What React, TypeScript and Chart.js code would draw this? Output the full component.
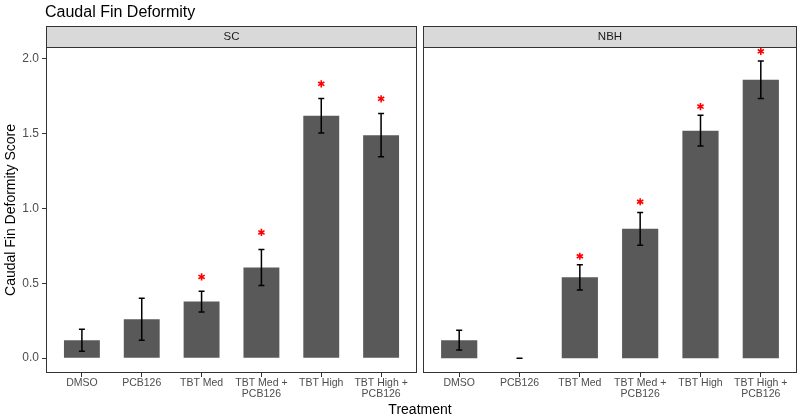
import React, { useEffect, useRef } from 'react';
import { Chart, registerables } from 'chart.js';

Chart.register(...registerables);

// ---- data ----
const CATEGORIES: string[][] = [
  ['DMSO'],
  ['PCB126'],
  ['TBT Med'],
  ['TBT Med +', 'PCB126'],
  ['TBT High'],
  ['TBT High +', 'PCB126'],
];
const PANELS = ['SC', 'NBH'];
const SC_MEAN = [0.12, 0.26, 0.378, 0.606, 1.62, 1.49];
const SC_SE = [0.073, 0.14, 0.07, 0.12, 0.115, 0.145];
const SC_STAR: (number | null)[] = [null, null, 0.543, 0.84, 1.833, 1.733];
const NBH_MEAN = [0.12, 0, 0.54, 0.864, 1.52, 1.86];
const NBH_SE = [0.066, 0, 0.084, 0.11, 0.103, 0.125];
const NBH_STAR: (number | null)[] = [null, null, 0.681, 1.045, 1.681, 2.05];
const Y_TICKS = [0, 0.5, 1.0, 1.5, 2.0];
const Y_MIN = -0.099;
const Y_MAX = 2.079;

const TITLE = 'Caudal Fin Deformity';
const Y_TITLE = 'Caudal Fin Deformity Score';
const X_TITLE = 'Treatment';

const FONT = "'Liberation Sans', Arial, sans-serif";

const panelPlugin = {
  id: 'panel',
  afterDatasetsDraw(chart: any, _args: any, opts: any) {
    const { ctx, chartArea: a, scales } = chart;
    const x = scales.x;
    const y = scales.y;
    ctx.save();
    // error bars
    ctx.strokeStyle = '#000';
    ctx.lineWidth = 1.5;
    opts.mean.forEach((m: number, i: number) => {
      const se = opts.se[i];
      const lo = y.getPixelForValue(m - se);
      const hi = y.getPixelForValue(m + se);
      const cx = x.getPixelForValue(i);
      const l = x.getPixelForValue(i - 0.05);
      const r = x.getPixelForValue(i + 0.05);
      ctx.beginPath();
      ctx.moveTo(cx, lo);
      ctx.lineTo(cx, hi);
      ctx.moveTo(l, lo);
      ctx.lineTo(r, lo);
      ctx.moveTo(l, hi);
      ctx.lineTo(r, hi);
      ctx.stroke();
    });
    // significance asterisks
    ctx.strokeStyle = '#ff0000';
    ctx.lineWidth = 1.6;
    opts.star.forEach((s: number | null, i: number) => {
      if (s === null) return;
      const cx = x.getPixelForValue(i);
      const cy = y.getPixelForValue(s);
      const r = 3.6;
      ctx.beginPath();
      for (let k = 0; k < 3; k++) {
        const ang = Math.PI / 2 + (k * Math.PI) / 3;
        ctx.moveTo(cx + r * Math.cos(ang), cy + r * Math.sin(ang));
        ctx.lineTo(cx - r * Math.cos(ang), cy - r * Math.sin(ang));
      }
      ctx.stroke();
    });
    // panel border
    ctx.strokeStyle = '#333333';
    ctx.lineWidth = 1;
    ctx.strokeRect(a.left + 0.5, a.top + 0.5, a.right - a.left - 1, a.bottom - a.top - 1);
    // strip
    const sh = 21;
    ctx.fillStyle = '#d9d9d9';
    ctx.fillRect(a.left, a.top - sh, a.right - a.left, sh);
    ctx.strokeRect(a.left + 0.5, a.top - sh + 0.5, a.right - a.left - 1, sh);
    ctx.fillStyle = '#1a1a1a';
    ctx.font = `11.5px ${FONT}`;
    ctx.textAlign = 'center';
    ctx.textBaseline = 'middle';
    ctx.fillText(opts.label, (a.left + a.right) / 2, a.top - sh / 2 + 0.5);

    if (opts.globalText) {
      ctx.fillStyle = '#000';
      ctx.font = `16px ${FONT}`;
      ctx.textAlign = 'left';
      ctx.textBaseline = 'alphabetic';
      ctx.fillText(TITLE, 45, 16.5);
      ctx.font = `14px ${FONT}`;
      ctx.textAlign = 'center';
      ctx.fillText(X_TITLE, 420, 413.5);
      ctx.save();
      ctx.translate(14.5, (a.top + a.bottom) / 2);
      ctx.rotate(-Math.PI / 2);
      ctx.fillText(Y_TITLE, 0, 0);
      ctx.restore();
    }
    ctx.restore();
  },
};

function makeConfig(panel: number): any {
  const mean = panel === 0 ? SC_MEAN : NBH_MEAN;
  const se = panel === 0 ? SC_SE : NBH_SE;
  const star = panel === 0 ? SC_STAR : NBH_STAR;
  const padding =
    panel === 0
      ? { left: 0, right: 383, top: 47, bottom: 0 }
      : { left: 423, right: 3, top: 47, bottom: 0 };
  const yScale: any = {
    type: 'linear',
    display: panel === 0,
    min: Y_MIN,
    max: Y_MAX,
    afterBuildTicks: (s: any) => {
      s.ticks = Y_TICKS.map((v) => ({ value: v }));
    },
    ticks: {
      padding: 3,
      color: '#4d4d4d',
      font: { family: FONT, size: 12 },
      callback: (v: number) => v.toFixed(1),
    },
    grid: {
      display: true,
      drawOnChartArea: false,
      drawTicks: true,
      tickLength: 4,
      color: '#333333',
      lineWidth: 1,
    },
    border: { display: false },
  };
  if (panel === 0) {
    yScale.afterFit = (s: any) => {
      s.width = 46;
    };
  }
  return {
    type: 'bar',
    data: {
      datasets: [
        {
          data: mean.map((v, i) => ({ x: i, y: v })),
          backgroundColor: '#595959',
          borderWidth: 0,
          categoryPercentage: 1,
          barPercentage: 0.6,
        },
      ],
    },
    plugins: [panelPlugin],
    options: {
      responsive: false,
      animation: false,
      devicePixelRatio: 1,
      layout: { padding },
      plugins: {
        legend: { display: false },
        tooltip: { enabled: false },
        title: { display: false },
        panel: { mean, se, star, label: PANELS[panel], globalText: panel === 0 },
      },
      scales: {
        x: {
          type: 'linear',
          offset: false,
          min: -0.6,
          max: 5.6,
          afterBuildTicks: (s: any) => {
            s.ticks = CATEGORIES.map((_, i) => ({ value: i }));
          },
          afterFit: (s: any) => {
            s.height = 46;
          },
          ticks: {
            autoSkip: false,
            maxRotation: 0,
            minRotation: 0,
            padding: 1,
            color: '#4d4d4d',
            font: { family: FONT, size: 10.5, lineHeight: 1.0 },
            callback: (v: number) => CATEGORIES[Math.round(v)],
          },
          grid: {
            display: true,
            offset: false,
            drawOnChartArea: false,
            drawTicks: true,
            tickLength: 4,
            color: '#333333',
            lineWidth: 1,
          },
          border: { display: false },
        },
        y: yScale,
      },
    },
  };
}

export default function App() {
  const ref1 = useRef<HTMLCanvasElement>(null);
  const ref2 = useRef<HTMLCanvasElement>(null);
  useEffect(() => {
    const c1 = new Chart(ref1.current as HTMLCanvasElement, makeConfig(0));
    const c2 = new Chart(ref2.current as HTMLCanvasElement, makeConfig(1));
    return () => {
      c1.destroy();
      c2.destroy();
    };
  }, []);
  return (
    <div style={{ position: 'absolute', left: 0, top: 0, width: 800, height: 419, background: '#fff' }}>
      <canvas ref={ref1} width={800} height={419} style={{ position: 'absolute', left: 0, top: 0 }} />
      <canvas ref={ref2} width={800} height={419} style={{ position: 'absolute', left: 0, top: 0 }} />
    </div>
  );
}
